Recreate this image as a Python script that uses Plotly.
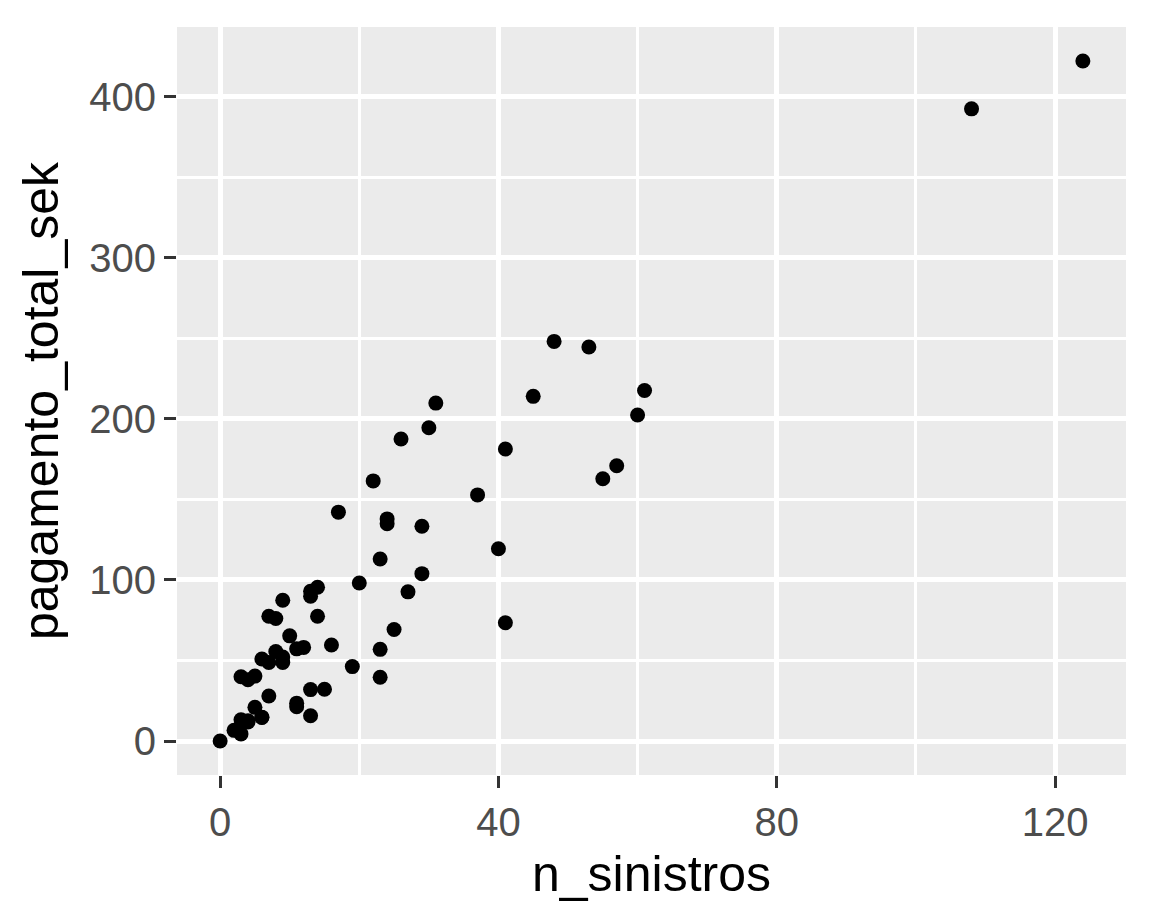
import plotly.graph_objects as go

# Swedish auto insurance data: claims count vs total payment (thousand SEK)
n_sinistros = [108, 19, 13, 124, 40, 57, 23, 14, 45, 10, 5, 48, 11, 23, 7, 2, 24, 6, 3, 23,
               6, 9, 9, 3, 29, 7, 4, 20, 7, 4, 0, 25, 6, 5, 22, 11, 61, 12, 4, 16,
               13, 60, 41, 37, 55, 41, 11, 27, 8, 3, 17, 13, 13, 15, 8, 29, 30, 24, 9, 31,
               14, 53, 26]
pagamento_total_sek = [392.5, 46.2, 15.7, 422.2, 119.4, 170.9, 56.9, 77.5, 214.0, 65.3,
                       20.9, 248.1, 23.5, 39.6, 48.8, 6.6, 134.9, 50.9, 4.4, 113.0,
                       14.8, 48.7, 52.1, 13.2, 103.9, 77.5, 11.8, 98.1, 27.9, 38.1,
                       0.0, 69.2, 14.6, 40.3, 161.5, 57.2, 217.6, 58.1, 12.6, 59.6,
                       89.9, 202.4, 181.3, 152.8, 162.8, 73.4, 21.3, 92.6, 76.1, 39.9,
                       142.1, 93.0, 31.9, 32.1, 55.6, 133.3, 194.5, 137.9, 87.4, 209.8,
                       95.5, 244.6, 187.5]

x_ticks = [0, 40, 80, 120]
y_ticks = [0, 100, 200, 300, 400]

# ggplot-style 5% expansion
x_lo, x_hi = min(n_sinistros), max(n_sinistros)
y_lo, y_hi = min(pagamento_total_sek), max(pagamento_total_sek)
x_pad = (x_hi - x_lo) * 0.05
y_pad = (y_hi - y_lo) * 0.05

fig = go.Figure(go.Scatter(
    x=n_sinistros, y=pagamento_total_sek, mode="markers",
    marker=dict(color="black", size=15, line=dict(width=0)),
    hoverinfo="x+y", showlegend=False,
))

axis_common = dict(
    showline=False, zeroline=False,
    gridcolor="white", gridwidth=5,
    ticks="outside", ticklen=12, tickwidth=3, tickcolor="#333333",
    tickfont=dict(family="Liberation Sans, Arial", size=40, color="#4D4D4D"),
    title_font=dict(family="Liberation Sans, Arial", size=50, color="black"),
)

fig.update_xaxes(
    range=[x_lo - x_pad, x_hi + x_pad], tickvals=x_ticks,
    minor=dict(dtick=20, tick0=0, showgrid=True, gridcolor="white", gridwidth=2.5, ticks=""),
    title_text="n_sinistros", title_standoff=12,
    **axis_common,
)
fig.update_yaxes(
    range=[y_lo - y_pad, y_hi + y_pad], tickvals=y_ticks,
    minor=dict(dtick=50, tick0=0, showgrid=True, gridcolor="white", gridwidth=2.5, ticks=""),
    title_text="pagamento_total_sek", title_standoff=14,
    **axis_common,
)

# page body has an 8px margin, so shrink the figure to keep the panel in place
fig.update_layout(
    width=1144, height=914,
    margin=dict(l=169, r=26, t=19, b=147),
    plot_bgcolor="#EBEBEB", paper_bgcolor="white",
)

fig.write_html("out.html")
